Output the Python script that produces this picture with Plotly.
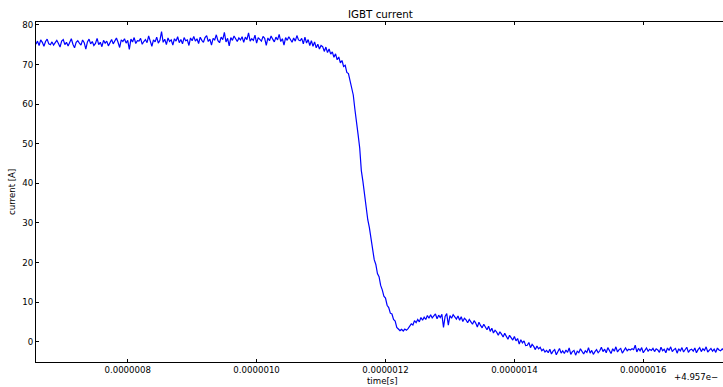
import plotly.graph_objects as go

# sample clock (ns, offset from +4.957e-5 s)
t0_ns = 657.5
dt_ns = 2.5

# current samples [A]
plateau_a = [75.1, 75.9, 74.8, 76.2, 75.6, 74.6, 75.8, 76.4, 75.2, 75.0,
             75.7, 74.9, 75.5, 76.1, 75.3, 74.4, 75.9, 76.3, 75.0, 75.6,
             74.7, 75.8, 76.5, 75.1, 74.2, 75.6, 76.0, 75.4, 74.9, 76.2,
             75.5, 73.9, 75.7, 76.4, 75.2, 75.8, 74.8, 75.3, 76.6, 75.0,
             75.6, 74.5, 76.1, 75.4, 75.9, 74.7, 75.5]
plateau_b = [76.3, 75.2, 76.0, 76.7, 75.6, 74.3, 76.2, 75.8, 76.5, 75.4,
             76.1, 73.8, 76.4, 75.7, 76.8, 75.3, 76.0, 75.9, 76.6, 75.1,
             75.8, 76.3, 75.5, 77.2, 75.9, 74.6, 76.2, 75.7, 76.9, 75.4,
             76.1, 78.3, 75.6, 76.4, 75.0, 76.7, 75.8, 76.2, 74.9, 76.5,
             75.9, 77.0, 75.5, 76.3, 75.2, 76.8, 76.0]
plateau_c = [76.2, 74.8, 76.7, 76.0, 77.1, 75.9, 76.5, 75.3, 76.9, 76.1,
             75.6, 76.8, 77.3, 75.8, 76.4, 74.9, 76.6, 76.2, 77.5, 76.0,
             75.5, 76.9, 76.3, 78.1, 75.7, 76.6, 74.7, 76.8, 76.1, 77.2,
             76.4, 75.8, 76.7, 76.2, 77.0, 75.6, 76.9, 76.3, 78.0, 75.9,
             76.5, 76.1, 77.4, 75.4, 76.8, 76.3, 75.9, 77.1, 76.6, 74.8,
             76.7, 76.0, 77.2, 76.4, 75.7, 76.9, 76.2, 77.6, 75.8, 76.5,
             74.9, 76.8, 76.1, 77.0, 76.3, 75.6, 76.7, 75.9, 77.3, 76.2,
             76.0]
fall = [76.6, 75.2, 76.9, 75.4, 76.3, 74.8, 76.0, 74.6, 75.7, 74.2,
        75.1, 73.9, 74.8, 74.5, 73.3, 74.4, 73.0, 73.9, 72.6, 73.2,
        71.8, 72.7, 71.2, 71.9, 70.4, 71.0, 69.5, 69.8, 68.0, 67.7,
        66.0, 64.8, 62.3, 58.7, 55.9, 52.3, 48.9, 43.2, 40.4, 36.7,
        34.3, 30.8, 28.8, 25.7, 23.8, 20.7, 19.5, 17.2, 16.4, 14.2,
        13.1, 11.5, 11.0, 9.2, 8.6, 7.2, 7.0, 5.6, 5.2, 3.6,
        3.2, 2.8, 3.1, 2.7, 3.2, 2.9]
bump = [3.3, 3.9, 4.5, 4.2, 5.3, 4.8, 5.6, 5.0, 6.1, 5.4,
        6.2, 5.6, 6.6, 5.9, 6.8, 6.0, 6.5, 7.0, 5.8, 6.7,
        6.1, 6.9, 3.6, 6.4, 7.1, 4.2, 6.6, 5.9, 6.8, 6.2,
        5.7, 6.5, 5.4, 6.3, 5.1, 5.9, 5.5, 4.8, 5.6, 5.0,
        4.4, 5.3, 4.7, 3.7, 4.9, 4.1, 3.5, 4.4, 3.8, 3.0,
        3.9, 2.6, 3.4, 2.2, 2.9, 2.4, 1.6, 2.5, 1.9, 1.2,
        2.1, 1.4, 0.6, 1.6, 1.0, 0.4, 1.3, 0.2, 0.8, -0.6,
        0.5, -0.3, 0.2, -1.0, -0.9, -0.2, -1.5, -0.7, -1.2, -2.0,
        -1.1, -1.8, -1.4, -2.3, -1.9, -2.6, -2.2]
tail = [-2.8, -1.9, -3.1, -2.4, -2.0, -3.3, -2.6, -1.7, -2.9, -2.3,
        -3.0, -2.1, -2.7, -1.6, -3.2, -2.5, -2.2, -3.4, -2.4, -2.8,
        -1.8, -2.6, -3.1, -2.3, -2.7, -1.5, -2.9, -2.2, -3.2, -2.5,
        -2.0, -2.8, -2.3, -1.4, -2.5, -1.9, -2.8, -1.5, -2.2, -3.0,
        -1.8, -2.4, -1.3, -2.6, -2.0, -1.7, -2.9, -2.1, -1.6, -2.3,
        -1.9, -2.1, -1.8, -2.0, -0.9, -2.6, -1.7, -2.3, -1.5, -2.8,
        -2.0, -1.6, -2.4, -1.9, -2.2, -1.7, -2.5, -1.8, -2.1, -2.7,
        -1.4, -2.3, -1.9, -2.8, -1.6, -2.2, -1.3, -2.5, -2.0, -1.7,
        -2.9, -1.8, -2.3, -1.5, -2.6, -2.0, -1.4, -2.7, -2.1, -1.9,
        -2.4, -1.6, -2.8, -2.0, -1.5, -2.5, -1.8, -2.2, -1.3, -2.6,
        -2.0, -1.7, -2.4, -1.9, -2.7, -1.6, -2.1, -2.3, -1.8, -2.2]

x_ticks = [0.8e-6, 1.0e-6, 1.2e-6, 1.4e-6, 1.6e-6]
x_tick_labels = ["0.0000008", "0.0000010", "0.0000012", "0.0000014", "0.0000016"]
y_ticks = [0, 10, 20, 30, 40, 50, 60, 70, 80]

current = plateau_a + plateau_b + plateau_c + fall + bump + tail
time_s = [(t0_ns + dt_ns * i) * 1e-9 for i in range(len(current))]

FONT = "DejaVu Sans"
W, H = 723, 387
L, R, T, B = 36, 0, 22, 25

fig = go.Figure(go.Scatter(x=time_s, y=current, mode="lines",
                           line=dict(color="#0000ff", width=1.2)))

fig.update_layout(
    width=W, height=H,
    margin=dict(l=L, r=R, t=T, b=B, pad=0),
    paper_bgcolor="white", plot_bgcolor="white",
    showlegend=False,
    font=dict(family=FONT, size=9, color="black"),
    xaxis=dict(range=[657.7e-9, 1723.7e-9], tickvals=x_ticks, ticktext=x_tick_labels,
               ticks="inside", ticklen=3, tickcolor="black", showline=True,
               linecolor="black", linewidth=1, mirror="ticks", showgrid=False,
               zeroline=False, tickfont=dict(family=FONT, size=8.6)),
    yaxis=dict(range=[-5.13, 80.73], tickvals=y_ticks,
               ticks="inside", ticklen=3, tickcolor="black", showline=True,
               linecolor="black", linewidth=1, showgrid=False, zeroline=False,
               tickfont=dict(family=FONT, size=8.6)),
)

pw = W - L - R
fig.add_annotation(text="IGBT current", xref="paper", yref="paper",
                   x=(381 - L) / pw, y=1, yshift=8, xanchor="center", yanchor="middle",
                   showarrow=False, font=dict(family=FONT, size=10.3))
fig.add_annotation(text="time[s]", xref="paper", yref="paper",
                   x=(382 - L) / pw, y=0, yshift=-19, xanchor="center", yanchor="middle",
                   showarrow=False, font=dict(family=FONT, size=8.6))
fig.add_annotation(text="current [A]", xref="paper", yref="paper",
                   x=0, xshift=-24, y=0.5, xanchor="center", yanchor="middle",
                   textangle=-90, showarrow=False, font=dict(family=FONT, size=8.6))
fig.add_annotation(text="+4.957e\u2212", xref="paper", yref="paper",
                   x=(720 - L) / pw, y=0, yshift=-15, xanchor="right", yanchor="middle",
                   showarrow=False, font=dict(family=FONT, size=8.6))

fig.write_html("out.html")
